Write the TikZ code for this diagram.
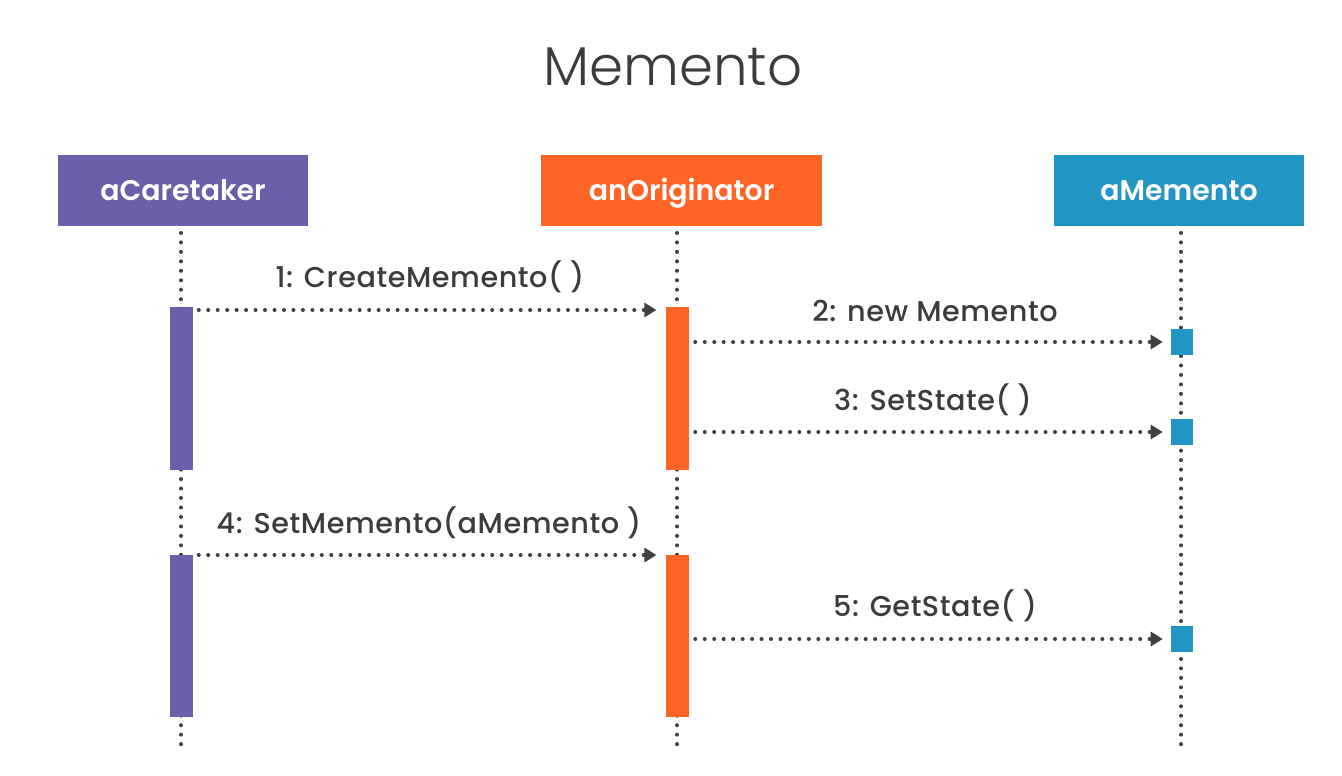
\documentclass[tikz,border=0pt]{standalone}
\usepackage{fontspec}
\setmainfont{Poppins}[BoldFont={Poppins SemiBold}]
\newfontfamily\titlefont{Poppins Light}
\newfontfamily\lblfont{Poppins Medium}[LetterSpace=2]
\usetikzlibrary{arrows.meta}
\definecolor{cpurple}{RGB}{106,96,169}
\definecolor{corange}{RGB}{255,100,39}
\definecolor{cblue}{RGB}{33,150,196}
\definecolor{cgray}{RGB}{64,64,64}
\definecolor{ctext}{RGB}{60,60,60}
\begin{document}
\begin{tikzpicture}[x=0.75pt,y=-0.75pt,
  head/.style={minimum width={250*0.75pt},minimum height={71*0.75pt},inner sep=0pt,text=white,
    font=\fontsize{21.3}{24}\selectfont\bfseries,text height=15pt,text depth=0pt},
  actbar/.style={minimum width={23*0.75pt},inner sep=0pt,anchor=north},
  sq/.style={minimum width={22*0.75pt},minimum height={26*0.75pt},inner sep=0pt,fill=cblue},
  life/.style={draw=cgray,line width=3pt,dash pattern=on 0pt off 7.1pt,line cap=round},
  msg/.style={draw=cgray,line width=3pt,dash pattern=on 0pt off 7.1pt,line cap=round,
    -{Triangle[length=9pt,width=10.5pt]}},
  lbl/.style={text=ctext,font=\lblfont\fontsize{21.5}{24}\selectfont,anchor=base,inner sep=0pt}]
\useasboundingbox[fill=white] (0,0) rectangle (1342,775);
\node[text=ctext,font=\titlefont\fontsize{41}{48}\selectfont,anchor=base,inner sep=0pt] (title) at (673,85) {Memento};
% headers
\node[head,fill=cpurple] (hc) at (183,190.5) {aCaretaker};
\node[head,fill=corange,minimum width={281*0.75pt}] (ho) at (681.5,190.5) {anOriginator};
\node[head,fill=cblue] (hm) at (1179,190.5) {aMemento};
% lifeline ends
\coordinate (ec) at (181,748);
\coordinate (eo) at (677,748);
\coordinate (em) at (1181,748);
\draw[life] ([yshift=-5pt]hc.south -| ec) -- (ec);
\draw[life] ([yshift=-5pt]ho.south -| eo) -- (eo);
\draw[life] ([yshift=-5pt]hm.south -| em) -- (em);
% activation bars
\node[actbar,fill=cpurple,minimum height={163*0.75pt}] (cb1) at (181,307) {};
\node[actbar,fill=cpurple,minimum height={162*0.75pt}] (cb2) at (181,555) {};
\node[actbar,fill=corange,minimum height={163*0.75pt}] (ob1) at (677.5,307) {};
\node[actbar,fill=corange,minimum height={162*0.75pt}] (ob2) at (677.5,555) {};
\node[sq] (m1) at (1182,342) {};
\node[sq] (m2) at (1182,432) {};
\node[sq] (m3) at (1182,639) {};
% messages
\coordinate (y1) at (0,310);
\coordinate (y4) at (0,555);
\draw[msg] ([xshift=4.5pt]cb1.east |- y1) -- ([xshift=-7pt]ob1.west |- y1);
\draw[msg] ([xshift=4.5pt]ob1.east |- m1) -- ([xshift=-6pt]m1.west);
\draw[msg] ([xshift=4.5pt]ob1.east |- m2) -- ([xshift=-6pt]m2.west);
\draw[msg] ([xshift=4.5pt]cb2.east |- y4) -- ([xshift=-7pt]ob2.west |- y4);
\draw[msg] ([xshift=4.5pt]ob2.east |- m3) -- ([xshift=-6pt]m3.west);
% labels
\node[lbl] (l1) at (430,287) {1: CreateMemento( )};
\node[lbl] (l2) at (935,321) {2: new Memento};
\node[lbl] (l3) at (933,410) {3: SetState( )};
\node[lbl] (l4) at (429,533) {4: SetMemento(aMemento )};
\node[lbl] (l5) at (935,616) {5: GetState( )};
\end{tikzpicture}
\end{document}
